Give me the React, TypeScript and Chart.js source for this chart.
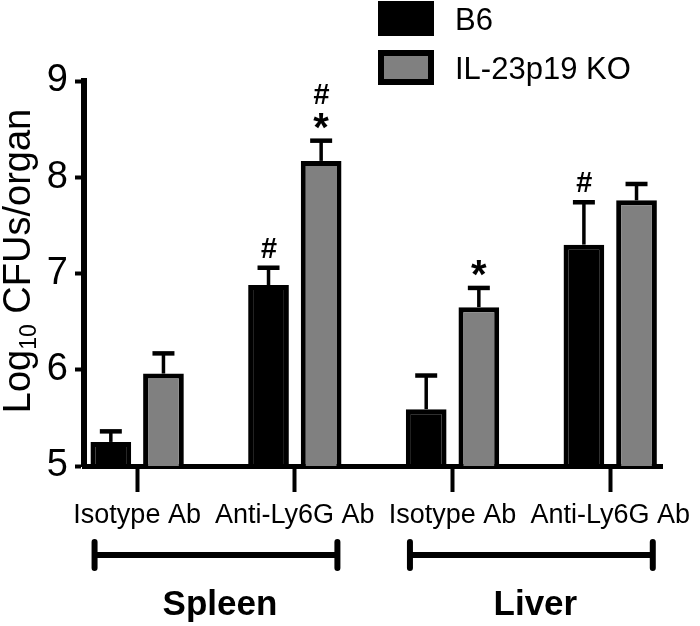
import React, { useEffect, useRef } from 'react';
import { Chart, registerables } from 'chart.js';

Chart.register(...registerables);

// ---- data ----
const categories = ['Isotype Ab', 'Anti-Ly6G Ab', 'Isotype Ab', 'Anti-Ly6G Ab'];
const organs = ['Spleen', 'Liver'];
const seriesNames = ['B6', 'IL-23p19 KO'];
const b6Means = [5.25, 6.88, 5.59, 7.3];
const b6Sem = [0.11, 0.18, 0.35, 0.44];
const koMeans = [5.96, 8.17, 6.65, 7.76];
const koSem = [0.21, 0.21, 0.2, 0.17];
const b6Marks: string[][] = [[], ['#'], [], ['#']];
const koMarks: string[][] = [[], ['*', '#'], ['*'], []];
const yMin = 5;
const yMax = 9;

const FONT = '"Liberation Sans", Arial, Helvetica, sans-serif';

const overlay = {
  id: 'overlay',
  afterDatasetsDraw(chart: any) {
    const ctx = chart.ctx;
    const ys = chart.scales.y;
    chart.data.datasets.forEach((ds: any, di: number) => {
      const meta = chart.getDatasetMeta(di);
      meta.data.forEach((bar: any, i: number) => {
        const mean = ds.data[i].y;
        const top = ys.getPixelForValue(mean + ds.err[i]);
        const w = bar.width;
        ctx.save();
        ctx.strokeStyle = '#000';
        ctx.lineCap = 'butt';
        ctx.lineWidth = 3.5;
        ctx.beginPath();
        ctx.moveTo(bar.x, bar.y);
        ctx.lineTo(bar.x, top);
        ctx.stroke();
        ctx.lineWidth = 4.5;
        ctx.beginPath();
        ctx.moveTo(bar.x - w * 0.27, top);
        ctx.lineTo(bar.x + w * 0.27, top);
        ctx.stroke();
        const marks: string[] = ds.marks[i] || [];
        marks.forEach((m: string, k: number) => {
          const center = top - 20 - 27 * k;
          ctx.font = m === '*' ? `bold 40px ${FONT}` : `italic bold 29px ${FONT}`;
          ctx.fillStyle = '#000';
          ctx.textAlign = 'center';
          ctx.textBaseline = 'alphabetic';
          const mt = ctx.measureText(m);
          const base = center + (mt.actualBoundingBoxAscent - mt.actualBoundingBoxDescent) / 2;
          ctx.fillText(m, bar.x, base);
        });
        ctx.restore();
      });
    });
  },
  afterDraw(chart: any) {
    const ctx = chart.ctx;
    const xs = chart.scales.x;
    const area = chart.chartArea;
    ctx.save();
    // legend
    seriesNames.forEach((name, i) => {
      const ds = chart.data.datasets[i];
      const bx = 378;
      const by = 1 + i * 49;
      ctx.fillStyle = ds.borderColor;
      ctx.fillRect(bx, by, 56, 35);
      if (ds.backgroundColor !== ds.borderColor) {
        ctx.fillStyle = ds.backgroundColor;
        ctx.fillRect(bx + 6, by + 6, 44, 23);
      }
      ctx.fillStyle = '#000';
      ctx.font = `31px ${FONT}`;
      ctx.textAlign = 'left';
      ctx.textBaseline = 'alphabetic';
      ctx.fillText(name, 455, by + 29);
    });
    // organ brackets
    organs.forEach((name, g) => {
      const i0 = g * 2;
      const i1 = g * 2 + 1;
      const xa = xs.getPixelForValue(i0 - 0.27);
      const xb = xs.getPixelForValue(i1 + 0.27);
      const yb = area.bottom + 89;
      ctx.strokeStyle = '#000';
      ctx.lineWidth = 6;
      ctx.lineCap = 'butt';
      ctx.beginPath();
      ctx.moveTo(xa, yb);
      ctx.lineTo(xb, yb);
      ctx.stroke();
      ctx.lineCap = 'round';
      ctx.beginPath();
      ctx.moveTo(xa, yb - 13);
      ctx.lineTo(xa, yb + 13);
      ctx.moveTo(xb, yb - 13);
      ctx.lineTo(xb, yb + 13);
      ctx.stroke();
      ctx.fillStyle = '#000';
      ctx.font = `bold 35px ${FONT}`;
      ctx.textAlign = 'center';
      ctx.textBaseline = 'alphabetic';
      ctx.fillText(name, (xa + xb) / 2 + 4, area.bottom + 149);
    });
    // y title with subscript
    const parts = [
      { t: 'Log', f: `38px ${FONT}`, dy: 0 },
      { t: '10', f: `23px ${FONT}`, dy: 6 },
      { t: ' CFUs/organ', f: `38px ${FONT}`, dy: 0 },
    ];
    let total = 0;
    parts.forEach((p) => {
      ctx.font = p.f;
      total += ctx.measureText(p.t).width;
    });
    ctx.translate(30, area.top + 180);
    ctx.rotate(-Math.PI / 2);
    let cx = -total / 2;
    ctx.textAlign = 'left';
    ctx.textBaseline = 'alphabetic';
    ctx.fillStyle = '#000';
    parts.forEach((p) => {
      ctx.font = p.f;
      ctx.fillText(p.t, cx, p.dy);
      cx += ctx.measureText(p.t).width;
    });
    ctx.restore();
  },
};

export default function App() {
  const ref = useRef<HTMLCanvasElement | null>(null);
  useEffect(() => {
    if (!ref.current) return;
    Chart.defaults.font.family = FONT;
    const chart = new Chart(ref.current, {
      type: 'bar',
      data: {
        datasets: [
          {
            label: seriesNames[0],
            data: b6Means.map((v, i) => ({ x: i, y: v })),
            backgroundColor: '#000000',
            borderColor: '#000000',
            borderWidth: 5,
            borderSkipped: false,
            err: b6Sem,
            marks: b6Marks,
          } as any,
          {
            label: seriesNames[1],
            data: koMeans.map((v, i) => ({ x: i, y: v })),
            backgroundColor: '#808080',
            borderColor: '#000000',
            borderWidth: 5,
            borderSkipped: false,
            err: koSem,
            marks: koMarks,
          } as any,
        ],
      },
      options: {
        responsive: false,
        animation: false,
        layout: { padding: { top: 81, right: 33, bottom: 90, left: 0 } },
        plugins: { legend: { display: false }, tooltip: { enabled: false } },
        datasets: { bar: { categoryPercentage: 0.6675, barPercentage: 0.7736 } },
        scales: {
          x: {
            type: 'linear',
            min: -0.337,
            max: 3.334,
            bounds: 'data',
            offset: false,
            grid: {
              offset: false,
              drawOnChartArea: false,
              drawTicks: true,
              tickLength: 26,
              tickWidth: 4,
              tickColor: '#000',
            },
            border: { display: true, color: '#000', width: 5 },
            ticks: {
              stepSize: 1,
              includeBounds: false,
              autoSkip: false,
              maxRotation: 0,
              minRotation: 0,
              padding: 7,
              color: '#000',
              font: { size: 27, family: FONT },
              callback: (v: any) => categories[v] ?? '',
            },
            afterBuildTicks: (s: any) => {
              s.ticks = categories.map((_, i) => ({ value: i }));
            },
            afterFit: (s: any) => {
              s.height = 70;
            },
          } as any,
          y: {
            min: yMin,
            max: yMax,
            grid: {
              drawOnChartArea: false,
              drawTicks: true,
              tickLength: 9,
              tickWidth: 4,
              tickColor: '#000',
            },
            border: { display: true, color: '#000', width: 6 },
            ticks: {
              stepSize: 1,
              padding: 7,
              color: '#000',
              font: { size: 38, family: FONT },
            },
            afterFit: (s: any) => {
              s.width = 84;
            },
          } as any,
        },
      },
      plugins: [overlay],
    });
    return () => chart.destroy();
  }, []);
  return (
    <div style={{ position: 'absolute', left: 0, top: 0, width: 700, height: 626, background: '#fff' }}>
      <canvas ref={ref} width={700} height={626} style={{ display: 'block' }} />
    </div>
  );
}
